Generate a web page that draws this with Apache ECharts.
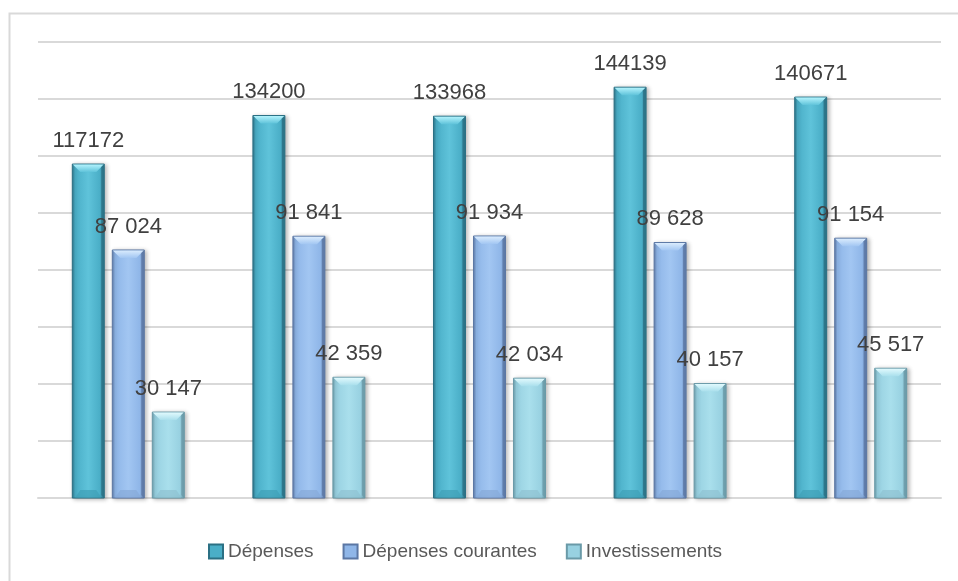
<!DOCTYPE html>
<html>
<head>
<meta charset="utf-8">
<title>Dépenses</title>
<script src="https://cdn.jsdelivr.net/npm/echarts@6/dist/echarts.min.js"></script>
<style>
  html, body { margin: 0; padding: 0; background: #ffffff; }
  #chart { width: 958px; height: 581px; }
</style>
</head>
<body>
<div id="chart"></div>
<script>
// Five periods, three expense series
const categories = ['1', '2', '3', '4', '5'];
const depenses = [117172, 134200, 133968, 144139, 140671];
const depensesCourantes = [87024, 91841, 91934, 89628, 91154];
const investissements = [30147, 42359, 42034, 40157, 45517];
const seriesNames = ['Dépenses', 'Dépenses courantes', 'Investissements'];

// Value axis ticks
const yMin = 0;
const yMax = 160000;
const yStep = 20000;

// Colours of each bevelled bar: body, dark edge, highlight
const palette = [
  { body: '#4aaec7', light: '#5fc3da', edge: '#2b7084', top: '#b2f2fc', bottom: '#3f9fb7' },
  { body: '#8fb6e8', light: '#a2c6f2', edge: '#5b77a4', top: '#d9ebfd', bottom: '#86a9d8' },
  { body: '#98d1e1', light: '#a9dfec', edge: '#6a9aa8', top: '#e0f9fd', bottom: '#8fc2d1' }
];

function withSpaces(v) {
  return String(v).replace(/\B(?=(\d{3})+(?!\d))/g, ' ');
}

function makeRender(seriesIndex) {
  const c = palette[seriesIndex];
  return function (params, api) {
    const cat = api.value(0);
    const val = api.value(1);
    const band = api.size([1, 0])[0];
    const w = band * 0.177;
    const step = band * 0.2215;
    const center = api.coord([cat, 0])[0] + (seriesIndex - 1) * step;
    const yTop = api.coord([cat, val])[1];
    const yBase = api.coord([cat, 0])[1];
    const x0 = center - w / 2;
    const x1 = center + w / 2;
    const b = Math.min(8, w / 4);
    const s = 3;
    const labelText = seriesIndex === 0 ? String(val) : withSpaces(val);
    return {
      type: 'group',
      children: [
        {
          type: 'rect',
          shape: { x: x0, y: yTop, width: w, height: yBase - yTop },
          style: {
            fill: new echarts.graphic.LinearGradient(0, 0, 1, 0, [
              { offset: 0, color: c.edge },
              { offset: 0.1, color: c.body },
              { offset: 0.5, color: c.light },
              { offset: 0.85, color: c.body },
              { offset: 1, color: c.edge }
            ]),
            stroke: c.edge,
            lineWidth: 1,
            shadowColor: 'rgba(0,0,0,0.28)',
            shadowBlur: 4,
            shadowOffsetX: 2,
            shadowOffsetY: 1
          },
          textContent: {
            type: 'text',
            style: {
              text: labelText,
              fill: '#404040',
              font: '22px "Liberation Sans", Arial, sans-serif'
            }
          },
          textConfig: { position: 'top', distance: 12 }
        },
        {
          // top bevel facet
          type: 'polygon',
          shape: { points: [[x0 + 0.5, yTop + 0.5], [x1 - 0.5, yTop + 0.5], [x1 - b, yTop + b], [x0 + b, yTop + b]] },
          style: {
            fill: new echarts.graphic.LinearGradient(0, 0, 0, 1, [
              { offset: 0, color: c.top },
              { offset: 1, color: c.light }
            ])
          }
        },
        {
          // bottom bevel facet
          type: 'polygon',
          shape: { points: [[x0 + s, yBase - 0.5], [x1 - s, yBase - 0.5], [x1 - b, yBase - b], [x0 + b, yBase - b]] },
          style: { fill: c.bottom, opacity: 0.7 }
        },
        {
          // right shaded side
          type: 'polygon',
          shape: { points: [[x1 - 0.5, yTop + 0.5], [x1 - 0.5, yBase], [x1 - s, yBase - s], [x1 - s, yTop + s]] },
          style: { fill: c.edge, opacity: 0.8 }
        }
      ]
    };
  };
}

const seriesData = [depenses, depensesCourantes, investissements];

const chart = echarts.init(document.getElementById('chart'), null, { renderer: 'canvas' });
chart.setOption({
  animation: false,
  backgroundColor: '#ffffff',
  graphic: [
    {
      type: 'rect',
      left: 7, top: 11,
      shape: { width: 1000, height: 1000 },
      style: { fill: 'none', stroke: '#d9d9d9', lineWidth: 2 },
      silent: true,
      z: -10
    }
  ],
  grid: { left: 38, right: 17, top: 42, bottom: 83 },
  legend: {
    left: 203,
    top: 537,
    icon: 'rect',
    itemWidth: 14,
    itemHeight: 14,
    itemGap: 29,
    textStyle: { color: '#595959', fontSize: 19, fontFamily: '"Liberation Sans", Arial, sans-serif' },
    data: seriesNames
  },
  xAxis: {
    type: 'category',
    data: categories,
    axisLine: { show: true, lineStyle: { color: '#d9d9d9', width: 2 } },
    axisTick: { show: false },
    axisLabel: { show: false }
  },
  yAxis: {
    type: 'value',
    min: yMin,
    max: yMax,
    interval: yStep,
    axisLine: { show: false },
    axisTick: { show: false },
    axisLabel: { show: false },
    splitLine: { lineStyle: { color: '#d9d9d9', width: 2 } }
  },
  series: seriesData.map(function (values, i) {
    return {
      name: seriesNames[i],
      type: 'custom',
      renderItem: makeRender(i),
      encode: { x: 0, y: 1 },
      itemStyle: { color: palette[i].body, borderColor: palette[i].edge, borderWidth: 1 },
      data: values.map(function (v, k) { return [k, v]; }),
      z: 3
    };
  })
});
</script>
</body>
</html>
